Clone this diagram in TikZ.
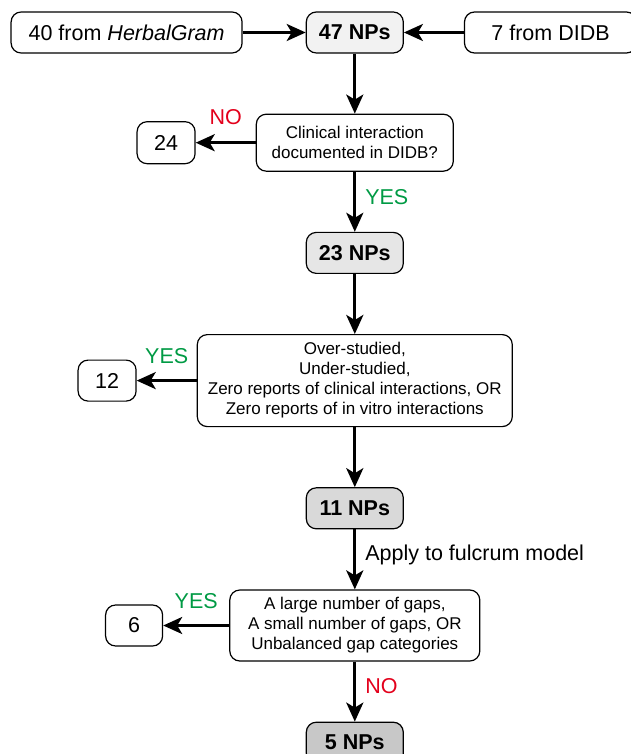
\documentclass[tikz,border=0pt]{standalone}
\usepackage{fontspec}
\setmainfont{Liberation Sans}
\usetikzlibrary{positioning,arrows.meta}
\definecolor{npA}{HTML}{F2F2F2}
\definecolor{npB}{HTML}{E6E6E6}
\definecolor{npC}{HTML}{D9D9D9}
\definecolor{npD}{HTML}{C8C8C8}
\definecolor{yescol}{HTML}{009A44}
\definecolor{nocol}{HTML}{E3001B}

\begin{document}
\begin{tikzpicture}[>={Stealth[length=9.5pt,width=8.5pt,inset=2.5pt]},node distance=30pt,
  box/.style={draw,rounded corners=5pt,line width=0.6pt,inner sep=0pt,align=center,
    minimum height=20.5pt,font=\fontsize{10.75}{13}\selectfont},
  np/.style={box,minimum width=48.5pt,font=\fontsize{10.75}{13}\selectfont\bfseries},
  test/.style={box,font=\fontsize{8.5}{10}\selectfont},
  flow/.style={->,line width=1.5pt},
  lab/.style={font=\fontsize{10.75}{13}\selectfont,inner sep=0pt}]
\useasboundingbox (-177.4pt,16.25pt) rectangle (138.1pt,-360.75pt);
% sources
\node[np,fill=npA] (n47) at (0,0) {47 NPs};
\node[box,minimum width=115.5pt] (herbal) [left=31.5pt of n47] {40 from \textit{HerbalGram}};
\node[box,minimum width=86pt] (didb) [right=of n47] {7 from DIDB};
% first filter
\node[test,minimum width=98.5pt,minimum height=28.5pt] (q1) [below=of n47] {Clinical interaction\\documented in DIDB?};
\node[box,minimum width=29pt,minimum height=21pt] (r24) [left=of q1] {24};
\node[np,fill=npB] (n23) [below=of q1] {23 NPs};
% second filter
\node[test,minimum width=157.5pt,minimum height=46pt] (q2) [below=of n23] {Over-studied,\\Under-studied,\\Zero reports of clinical interactions, OR\\Zero reports of in vitro interactions};
\node[box,minimum width=29pt] (r12) [left=of q2] {12};
\node[np,fill=npC] (n11) [below=of q2] {11 NPs};
% fulcrum model
\node[test,minimum width=125pt,minimum height=35.5pt] (q3) [below=of n11] {A large number of gaps,\\A small number of gaps, OR\\Unbalanced gap categories};
\node[box,minimum width=28.5pt] (r6) [left=33pt of q3] {6};
\node[np,fill=npD] (n5) [below=of q3] {5 NPs};

\draw[flow] (herbal) -- (n47);
\draw[flow] (didb) -- (n47);
\draw[flow] (n47) -- (q1);
\draw[flow] (q1) -- (r24) node[lab,midway,above=8pt,text=nocol]{NO};
\draw[flow] (q1) -- (n23) node[lab,pos=0.42,right=4.5pt,text=yescol]{YES};
\draw[flow] (n23) -- (q2);
\draw[flow] (q2) -- (r12) node[lab,midway,above=7.75pt,text=yescol]{YES};
\draw[flow] (q2) -- (n11);
\draw[flow] (n11) -- (q3) node[lab,pos=0.42,right=4.5pt]{Apply to fulcrum model};
\draw[flow] (q3) -- (r6) node[lab,midway,above=7.5pt,text=yescol]{YES};
\draw[flow] (q3) -- (n5) node[lab,pos=0.41,right=4.5pt,text=nocol]{NO};
\end{tikzpicture}
\end{document}
